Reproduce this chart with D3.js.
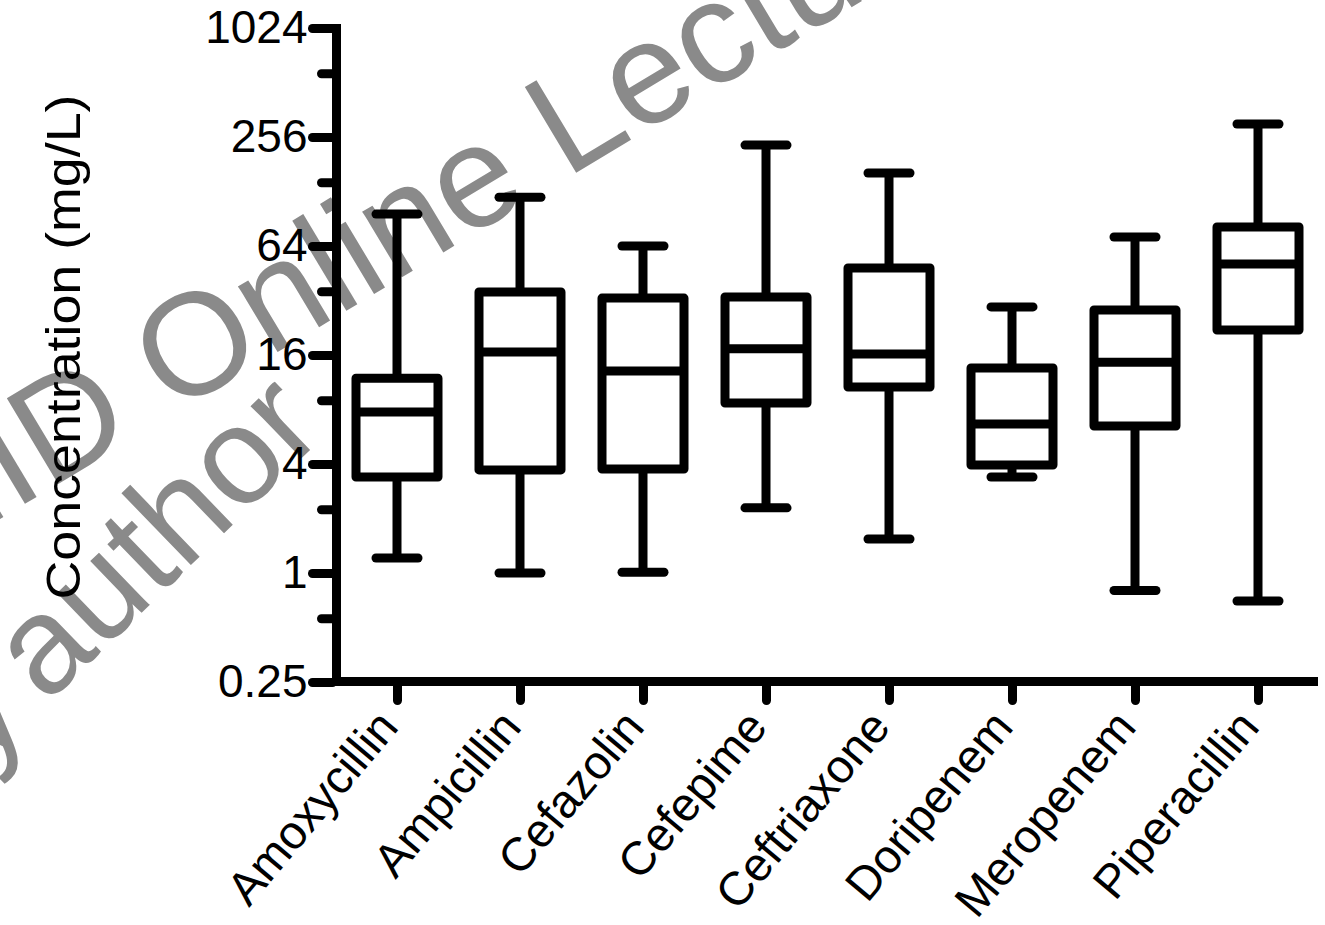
<!DOCTYPE html>
<html>
<head>
<meta charset="utf-8">
<script src="https://cdn.jsdelivr.net/npm/d3@7"></script>
<style>
  html, body { margin: 0; padding: 0; background: #ffffff; }
  svg { display: block; }
  text { font-family: "Liberation Sans", Arial, Helvetica, sans-serif; }
</style>
</head>
<body>
<script>
// ---- data ----
const categories = ["Amoxycillin", "Ampicillin", "Cefazolin", "Cefepime", "Ceftriaxone", "Doripenem", "Meropenem", "Piperacillin"];
const whiskerLow  = [1.21, 1.0, 1.01, 2.29, 1.54, 3.39, 0.80, 0.70];
const quartile1   = [3.39, 3.71, 3.75, 8.69, 10.65, 3.95, 6.49, 22.0];
const medians     = [7.75, 16.6, 13.05, 17.3, 16.2, 6.65, 14.6, 50.9];
const quartile3   = [11.9, 35.7, 33.0, 33.5, 48.4, 13.56, 28.4, 81.5];
const whiskerHigh = [96, 119, 64, 231, 162, 29.5, 71.8, 302];
const majorTicks  = [0.25, 1, 4, 16, 64, 256, 1024];
const majorLabels = ["0.25", "1", "4", "16", "64", "256", "1024"];
const minorTicks  = [0.5625, 2.25, 9, 36, 144, 576];
const yTitle = "Concentration (mg/L)";
const watermark1a = "ESCMI", watermark1b = "D Online Lecture Library";
const watermark2a = "\u00A9 by ", watermark2b = "author";

const W = 1325, H = 925;
const svg = d3.select("body").append("svg").attr("width", W).attr("height", H);
svg.append("rect").attr("width", W).attr("height", H).attr("fill", "#fff");

// watermark (underneath)
const wm = svg.append("g").attr("fill", "#8a8a8a");
function wmText(x, y, ang, size, a, b, gap) {
  const g = wm.append("g").attr("transform", `translate(${x},${y}) rotate(${ang})`).style("font-size", size + "px");
  g.append("text").attr("text-anchor", "end").attr("x", -gap).text(a);
  g.append("text").attr("text-anchor", "start").text(b);
}
wmText(48, 490, -31, 145, watermark1a, watermark1b, 0);
wmText(46, 705, -44, 138, watermark2a, watermark2b, 20);

const y = d3.scaleLog().base(2).domain([0.25, 1024]).range([682, 28]);
const x = d3.scalePoint().domain(categories).range([397, 1258]);

const axisX0 = 336.5, axisY0 = 681.5;
const SW = 9;

// y axis
const yAxis = d3.axisLeft(y).tickValues(majorTicks)
  .tickFormat((d, i) => majorLabels[i]).tickSize(24).tickPadding(5);
const gy = svg.append("g").attr("transform", `translate(${axisX0},0)`).call(yAxis);
gy.select(".domain").remove();
gy.selectAll(".tick line").attr("stroke", "#000").attr("stroke-width", SW).attr("stroke-linecap", "round")
  .attr("x1", -4);
gy.selectAll(".tick text").attr("fill", "#000").style("font-size", "46px")
  .style("font-family", "'Liberation Sans', Arial, sans-serif");

const yMinor = d3.axisLeft(y).tickValues(minorTicks).tickFormat("").tickSize(15);
const gym = svg.append("g").attr("transform", `translate(${axisX0},0)`).call(yMinor);
gym.select(".domain").remove();
gym.selectAll(".tick line").attr("stroke", "#000").attr("stroke-width", SW).attr("stroke-linecap", "round")
  .attr("x1", -4);

// x axis
const xAxis = d3.axisBottom(x).tickSize(19).tickFormat("");
const gx = svg.append("g").attr("transform", `translate(0,${axisY0})`).call(xAxis);
gx.select(".domain").remove();
gx.selectAll(".tick line").attr("stroke", "#000").attr("stroke-width", SW).attr("stroke-linecap", "round")
  .attr("y1", 4);

// axis lines
svg.append("line").attr("x1", axisX0).attr("x2", axisX0).attr("y1", y(1024) - 4).attr("y2", axisY0 + 4)
  .attr("stroke", "#000").attr("stroke-width", SW);
svg.append("line").attr("x1", axisX0 - 4).attr("x2", 1318).attr("y1", axisY0).attr("y2", axisY0)
  .attr("stroke", "#000").attr("stroke-width", SW);

// x labels
svg.append("g").selectAll("text").data(categories).join("text")
  .attr("transform", d => `translate(${x(d) + 3},${728}) rotate(-50)`)
  .attr("text-anchor", "end")
  .style("font-size", "47px")
  .attr("fill", "#000")
  .text(d => d);

// y title
svg.append("text")
  .attr("transform", `translate(80,${347}) rotate(-90)`)
  .attr("text-anchor", "middle")
  .style("font-size", "48px")
  .attr("textLength", 505).attr("lengthAdjust", "spacingAndGlyphs")
  .attr("fill", "#000")
  .text(yTitle);

// boxes
const boxW = 82, capW = 42;
const data = categories.map((c, i) => ({ c, lo: whiskerLow[i], q1: quartile1[i], med: medians[i], q3: quartile3[i], hi: whiskerHigh[i] }));
const gb = svg.append("g").attr("stroke", "#000").attr("stroke-width", SW).attr("fill", "none");
const bx = gb.selectAll("g").data(data).join("g");
bx.append("line").attr("x1", d => x(d.c)).attr("x2", d => x(d.c)).attr("y1", d => y(d.hi)).attr("y2", d => y(d.q3));
bx.append("line").attr("x1", d => x(d.c)).attr("x2", d => x(d.c)).attr("y1", d => y(d.q1)).attr("y2", d => y(d.lo));
bx.append("line").attr("stroke-linecap", "round")
  .attr("x1", d => x(d.c) - capW / 2).attr("x2", d => x(d.c) + capW / 2).attr("y1", d => y(d.hi)).attr("y2", d => y(d.hi));
bx.append("line").attr("stroke-linecap", "round")
  .attr("x1", d => x(d.c) - capW / 2).attr("x2", d => x(d.c) + capW / 2).attr("y1", d => y(d.lo)).attr("y2", d => y(d.lo));
bx.append("rect").attr("stroke-linejoin", "round").attr("fill", "#fff")
  .attr("x", d => x(d.c) - boxW / 2).attr("width", boxW)
  .attr("y", d => y(d.q3)).attr("height", d => y(d.q1) - y(d.q3));
bx.append("line")
  .attr("x1", d => x(d.c) - boxW / 2).attr("x2", d => x(d.c) + boxW / 2).attr("y1", d => y(d.med)).attr("y2", d => y(d.med));
</script>
</body>
</html>
